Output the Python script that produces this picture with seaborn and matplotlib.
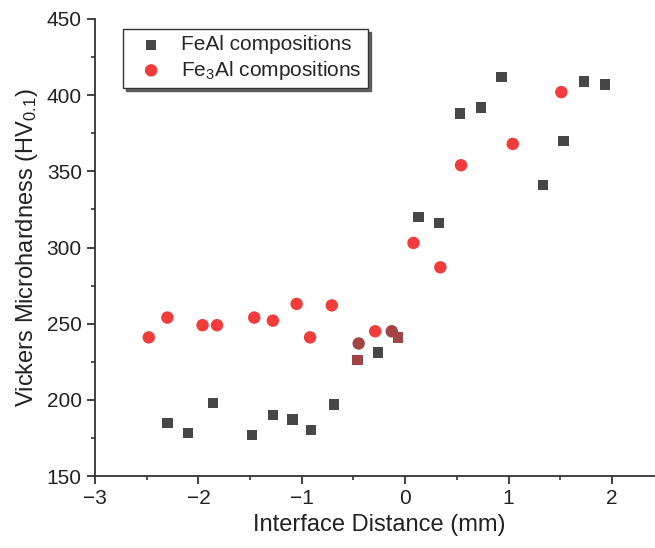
import numpy as np
import pandas as pd
import matplotlib
matplotlib.use("Agg")
import matplotlib.pyplot as plt
import seaborn as sns
from matplotlib.ticker import MultipleLocator

# -----------------------------
# DATA
# -----------------------------
feal_x = [-2.30, -2.10, -1.86, -1.48, -1.28, -1.09, -0.91, -0.69, -0.26,
          0.13, 0.33, 0.53, 0.73, 0.93, 1.33, 1.53, 1.73, 1.93]
feal_y = [185, 178, 198, 177, 190, 187, 180, 197, 231,
          320, 316, 388, 392, 412, 341, 370, 409, 407]

fe3al_x = [-2.48, -2.30, -1.96, -1.82, -1.46, -1.28, -1.05, -0.92, -0.71,
           -0.29, 0.08, 0.34, 0.54, 1.04, 1.51]
fe3al_y = [241, 254, 249, 249, 254, 252, 263, 241, 262,
           245, 303, 287, 354, 368, 402]

# points right at the interface, drawn in a darker shade
iface_sq_x = [-0.46, -0.07]
iface_sq_y = [226, 241]
iface_ci_x = [-0.45, -0.13]
iface_ci_y = [237, 245]

GRAY = "#474747"
RED = "#f23c3c"
BROWN = "#a04444"

sns.set_style("ticks")
plt.rcParams["font.family"] = ["Liberation Sans", "DejaVu Sans"]
plt.rcParams["mathtext.fontset"] = "custom"
plt.rcParams["mathtext.rm"] = "Liberation Sans"
plt.rcParams["mathtext.it"] = "Liberation Sans:italic"

fig = plt.figure(figsize=(6.55, 5.48), dpi=100)
ax = fig.add_axes([95 / 655, 72 / 548, 568.7 / 655, 457 / 548])

sns.scatterplot(x=feal_x, y=feal_y, marker="s", s=55, color=GRAY,
                edgecolor="none", label="FeAl compositions", ax=ax)
sns.scatterplot(x=fe3al_x, y=fe3al_y, marker="o", s=80, color=RED,
                edgecolor="none", label="Fe$_3$Al compositions", ax=ax)
sns.scatterplot(x=iface_sq_x, y=iface_sq_y, marker="s", s=55, color=BROWN,
                edgecolor="none", legend=False, ax=ax)
sns.scatterplot(x=iface_ci_x, y=iface_ci_y, marker="o", s=80, color=BROWN,
                edgecolor="none", legend=False, ax=ax)

ax.set_xlim(-3, 2.5)
ax.set_ylim(150, 450)
ax.xaxis.set_major_locator(MultipleLocator(1))
ax.xaxis.set_minor_locator(MultipleLocator(0.5))
ax.yaxis.set_major_locator(MultipleLocator(50))
ax.yaxis.set_minor_locator(MultipleLocator(25))

sns.despine(ax=ax)
for sp in ["left", "bottom"]:
    ax.spines[sp].set_linewidth(1.3)
    ax.spines[sp].set_color("#333333")
ax.tick_params(which="major", direction="out", length=6, width=1.3,
               colors="#333333", labelsize=15, labelcolor="#222222")
ax.tick_params(which="minor", direction="out", length=3, width=1.2,
               colors="#333333")

ax.set_xlabel("Interface Distance (mm)", fontsize=17, color="#222222",
              labelpad=4)
ax.set_ylabel("Vickers Microhardness (HV$_{0.1}$)", fontsize=17,
              color="#222222", labelpad=5)

leg = ax.legend(loc="upper left", bbox_to_anchor=(28 / 568.7, 1 - 10 / 457),
                borderaxespad=0, frameon=True, fancybox=False,
                shadow={"color": "0.25", "alpha": 0.8},
                fontsize=15, handlelength=2.1, handletextpad=0.4,
                borderpad=0.3, labelspacing=0.22)
leg.get_frame().set_edgecolor("#333333")
leg.get_frame().set_linewidth(1.0)

fig.savefig("out.png", dpi=100)
